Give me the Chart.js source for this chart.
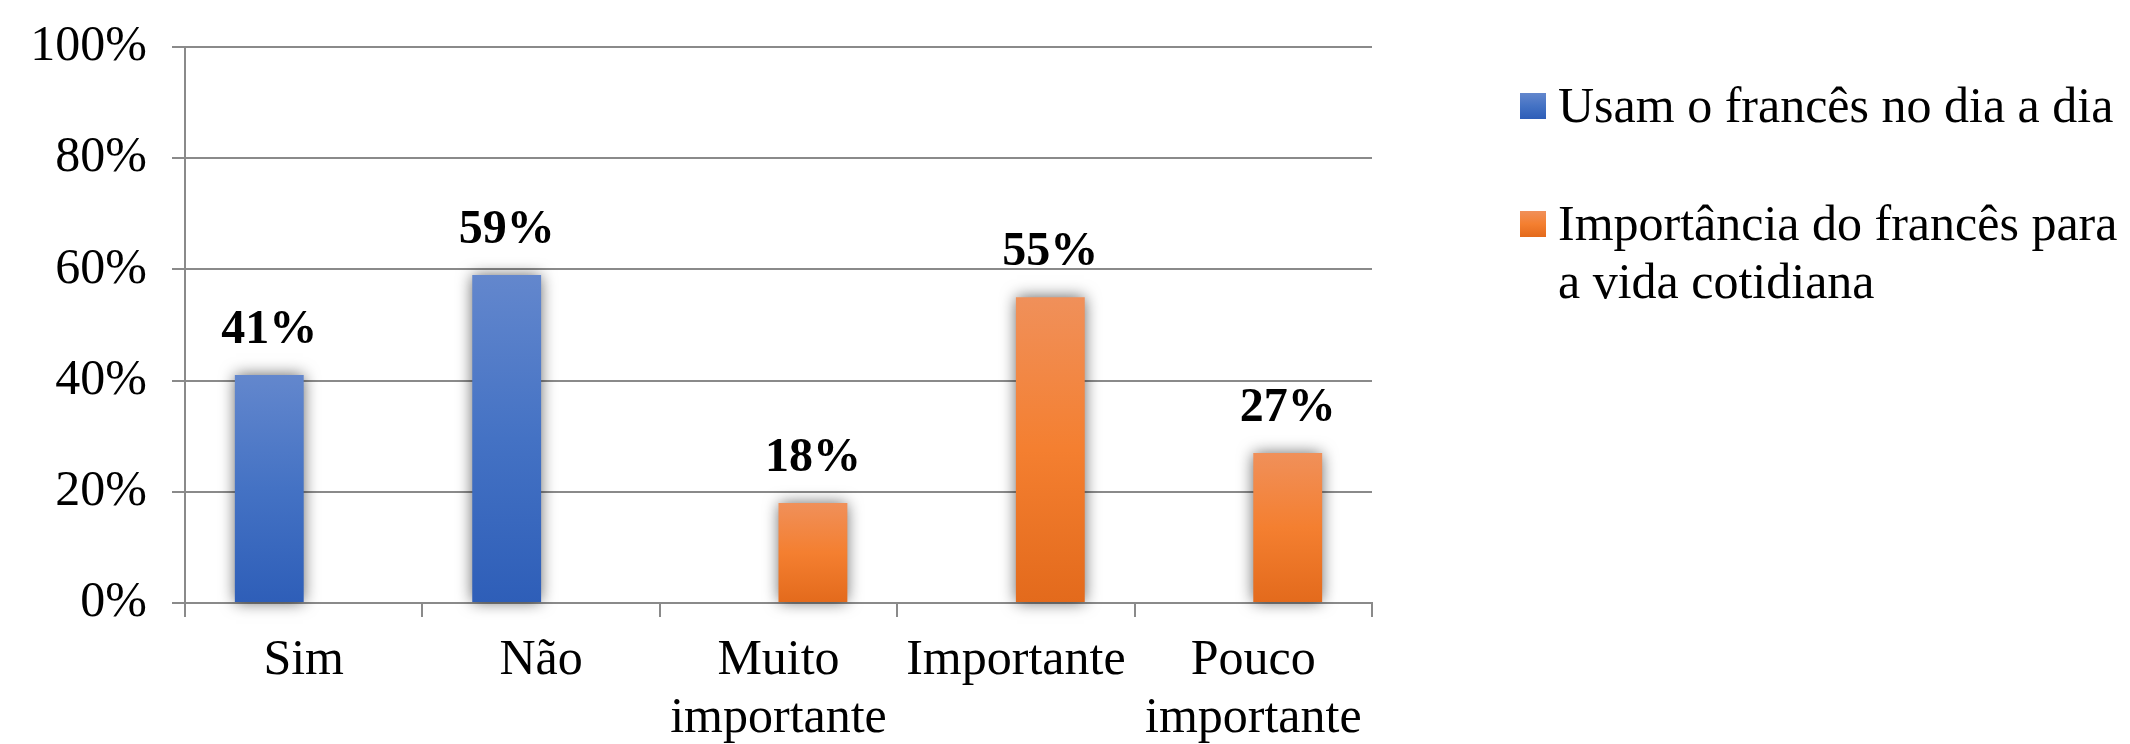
<!DOCTYPE html>
<html lang="pt">
<head>
<meta charset="utf-8">
<title>Uso do francês</title>
<script src="https://cdn.jsdelivr.net/npm/chart.js@4.4.1/dist/chart.umd.min.js"></script>
<style>
  html, body { margin: 0; padding: 0; background: #fff; }
  #wrap { width: 2130px; height: 744px; position: relative; }
</style>
</head>
<body>
<div id="wrap"><canvas id="chart"></canvas></div>
<script>
// data
const CATEGORIES  = ['Sim', 'Não', ['Muito', 'importante'], 'Importante', ['Pouco', 'importante']];
const USO_DIARIO  = [41, 59, null, null, null];
const IMPORTANCIA = [null, null, 18, 55, 27];
const Y_TICKS     = [0, 20, 40, 60, 80, 100];
const SERIES_1    = ['Usam o francês no dia a dia'];
const SERIES_2    = ['Importância do francês para', 'a vida cotidiana'];

const GRID   = '#8a8a8a';
const FONT   = 'Liberation Serif';
const BLUE   = ['#6387cd', '#4472c4', '#2e5eb8'];
const ORANGE = ['#f0905a', '#f47f30', '#e36a1c'];

// per-bar vertical gradient, light at top
function barGradient(colors) {
  return ctx => {
    const chart = ctx.chart;
    if (!chart.chartArea || ctx.type !== 'data' || ctx.raw == null) return colors[1];
    const y = chart.scales.y;
    const g = chart.ctx.createLinearGradient(0, y.getPixelForValue(ctx.raw), 0, y.getPixelForValue(0));
    g.addColorStop(0, colors[0]);
    g.addColorStop(0.5, colors[1]);
    g.addColorStop(1, colors[2]);
    return g;
  };
}

const barShadow = {
  id: 'barShadow',
  beforeDatasetsDraw(chart) {
    const c = chart.ctx;
    c.save();
    c.shadowColor = 'rgba(0,0,0,0.62)';
    c.shadowBlur = 15;
  },
  afterDatasetsDraw(chart) {
    chart.ctx.restore();
  }
};

const valueLabels = {
  id: 'valueLabels',
  afterDatasetsDraw(chart) {
    const c = chart.ctx;
    c.save();
    c.font = 'bold 48px "' + FONT + '"';
    c.fillStyle = '#000';
    c.textAlign = 'center';
    c.textBaseline = 'alphabetic';
    chart.data.datasets.forEach((ds, i) => {
      chart.getDatasetMeta(i).data.forEach((bar, j) => {
        if (ds.data[j] == null) return;
        c.fillText(ds.data[j] + '%', bar.x, bar.y - 32);
      });
    });
    c.restore();
  }
};

// legend on the right, drawn by hand so the second entry can wrap
const sideLegend = {
  id: 'sideLegend',
  afterDraw(chart) {
    const c = chart.ctx;
    const rows = [
      { lines: SERIES_1, colors: BLUE,   boxTop: 93,  baseline: 122 },
      { lines: SERIES_2, colors: ORANGE, boxTop: 211, baseline: 240 },
    ];
    c.save();
    c.font = '50px "' + FONT + '"';
    c.textAlign = 'left';
    c.textBaseline = 'alphabetic';
    rows.forEach(r => {
      const g = c.createLinearGradient(0, r.boxTop, 0, r.boxTop + 26);
      g.addColorStop(0, r.colors[0]);
      g.addColorStop(0.5, r.colors[1]);
      g.addColorStop(1, r.colors[2]);
      c.fillStyle = g;
      c.fillRect(1520, r.boxTop, 26, 26);
      c.fillStyle = '#000';
      r.lines.forEach((line, k) => c.fillText(line, 1558, r.baseline + k * 58));
    });
    c.restore();
  }
};

new Chart(document.getElementById('chart'), {
  type: 'bar',
  data: {
    labels: CATEGORIES,
    datasets: [
      {
        label: SERIES_1.join(' '),
        data: USO_DIARIO,
        backgroundColor: barGradient(BLUE),
        clip: false,
      },
      {
        label: SERIES_2.join(' '),
        data: IMPORTANCIA,
        backgroundColor: barGradient(ORANGE),
        clip: false,
      }
    ]
  },
  options: {
    responsive: true,
    maintainAspectRatio: false,
    animation: false,
    categoryPercentage: 0.58,
    barPercentage: 1.0,
    layout: { padding: { top: 47, right: 758, bottom: 0, left: 0 } },
    plugins: {
      legend: { display: false },
      tooltip: { enabled: false }
    },
    scales: {
      x: {
        grid: { offset: true, drawOnChartArea: false, color: GRID, lineWidth: 2, tickLength: 14 },
        border: { color: GRID, width: 2 },
        ticks: {
          color: '#000',
          font: { family: FONT, size: 50, lineHeight: 1.16 },
          padding: 15, maxRotation: 0, autoSkip: false
        },
        afterFit(scale) { scale.height = 141; }
      },
      y: {
        min: 0, max: 100,
        afterBuildTicks(scale) { scale.ticks = Y_TICKS.map(v => ({ value: v })); },
        grid: { color: GRID, lineWidth: 2, tickLength: 13 },
        border: { color: GRID, width: 2 },
        ticks: {
          color: '#000',
          // small lineHeight keeps the top label from pushing the plot down
          font: { family: FONT, size: 50, lineHeight: 0.8 },
          padding: 25,
          callback: v => v + '%'
        },
        afterFit(scale) { scale.width = 185; }
      }
    }
  },
  plugins: [barShadow, valueLabels, sideLegend]
});
</script>
</body>
</html>
